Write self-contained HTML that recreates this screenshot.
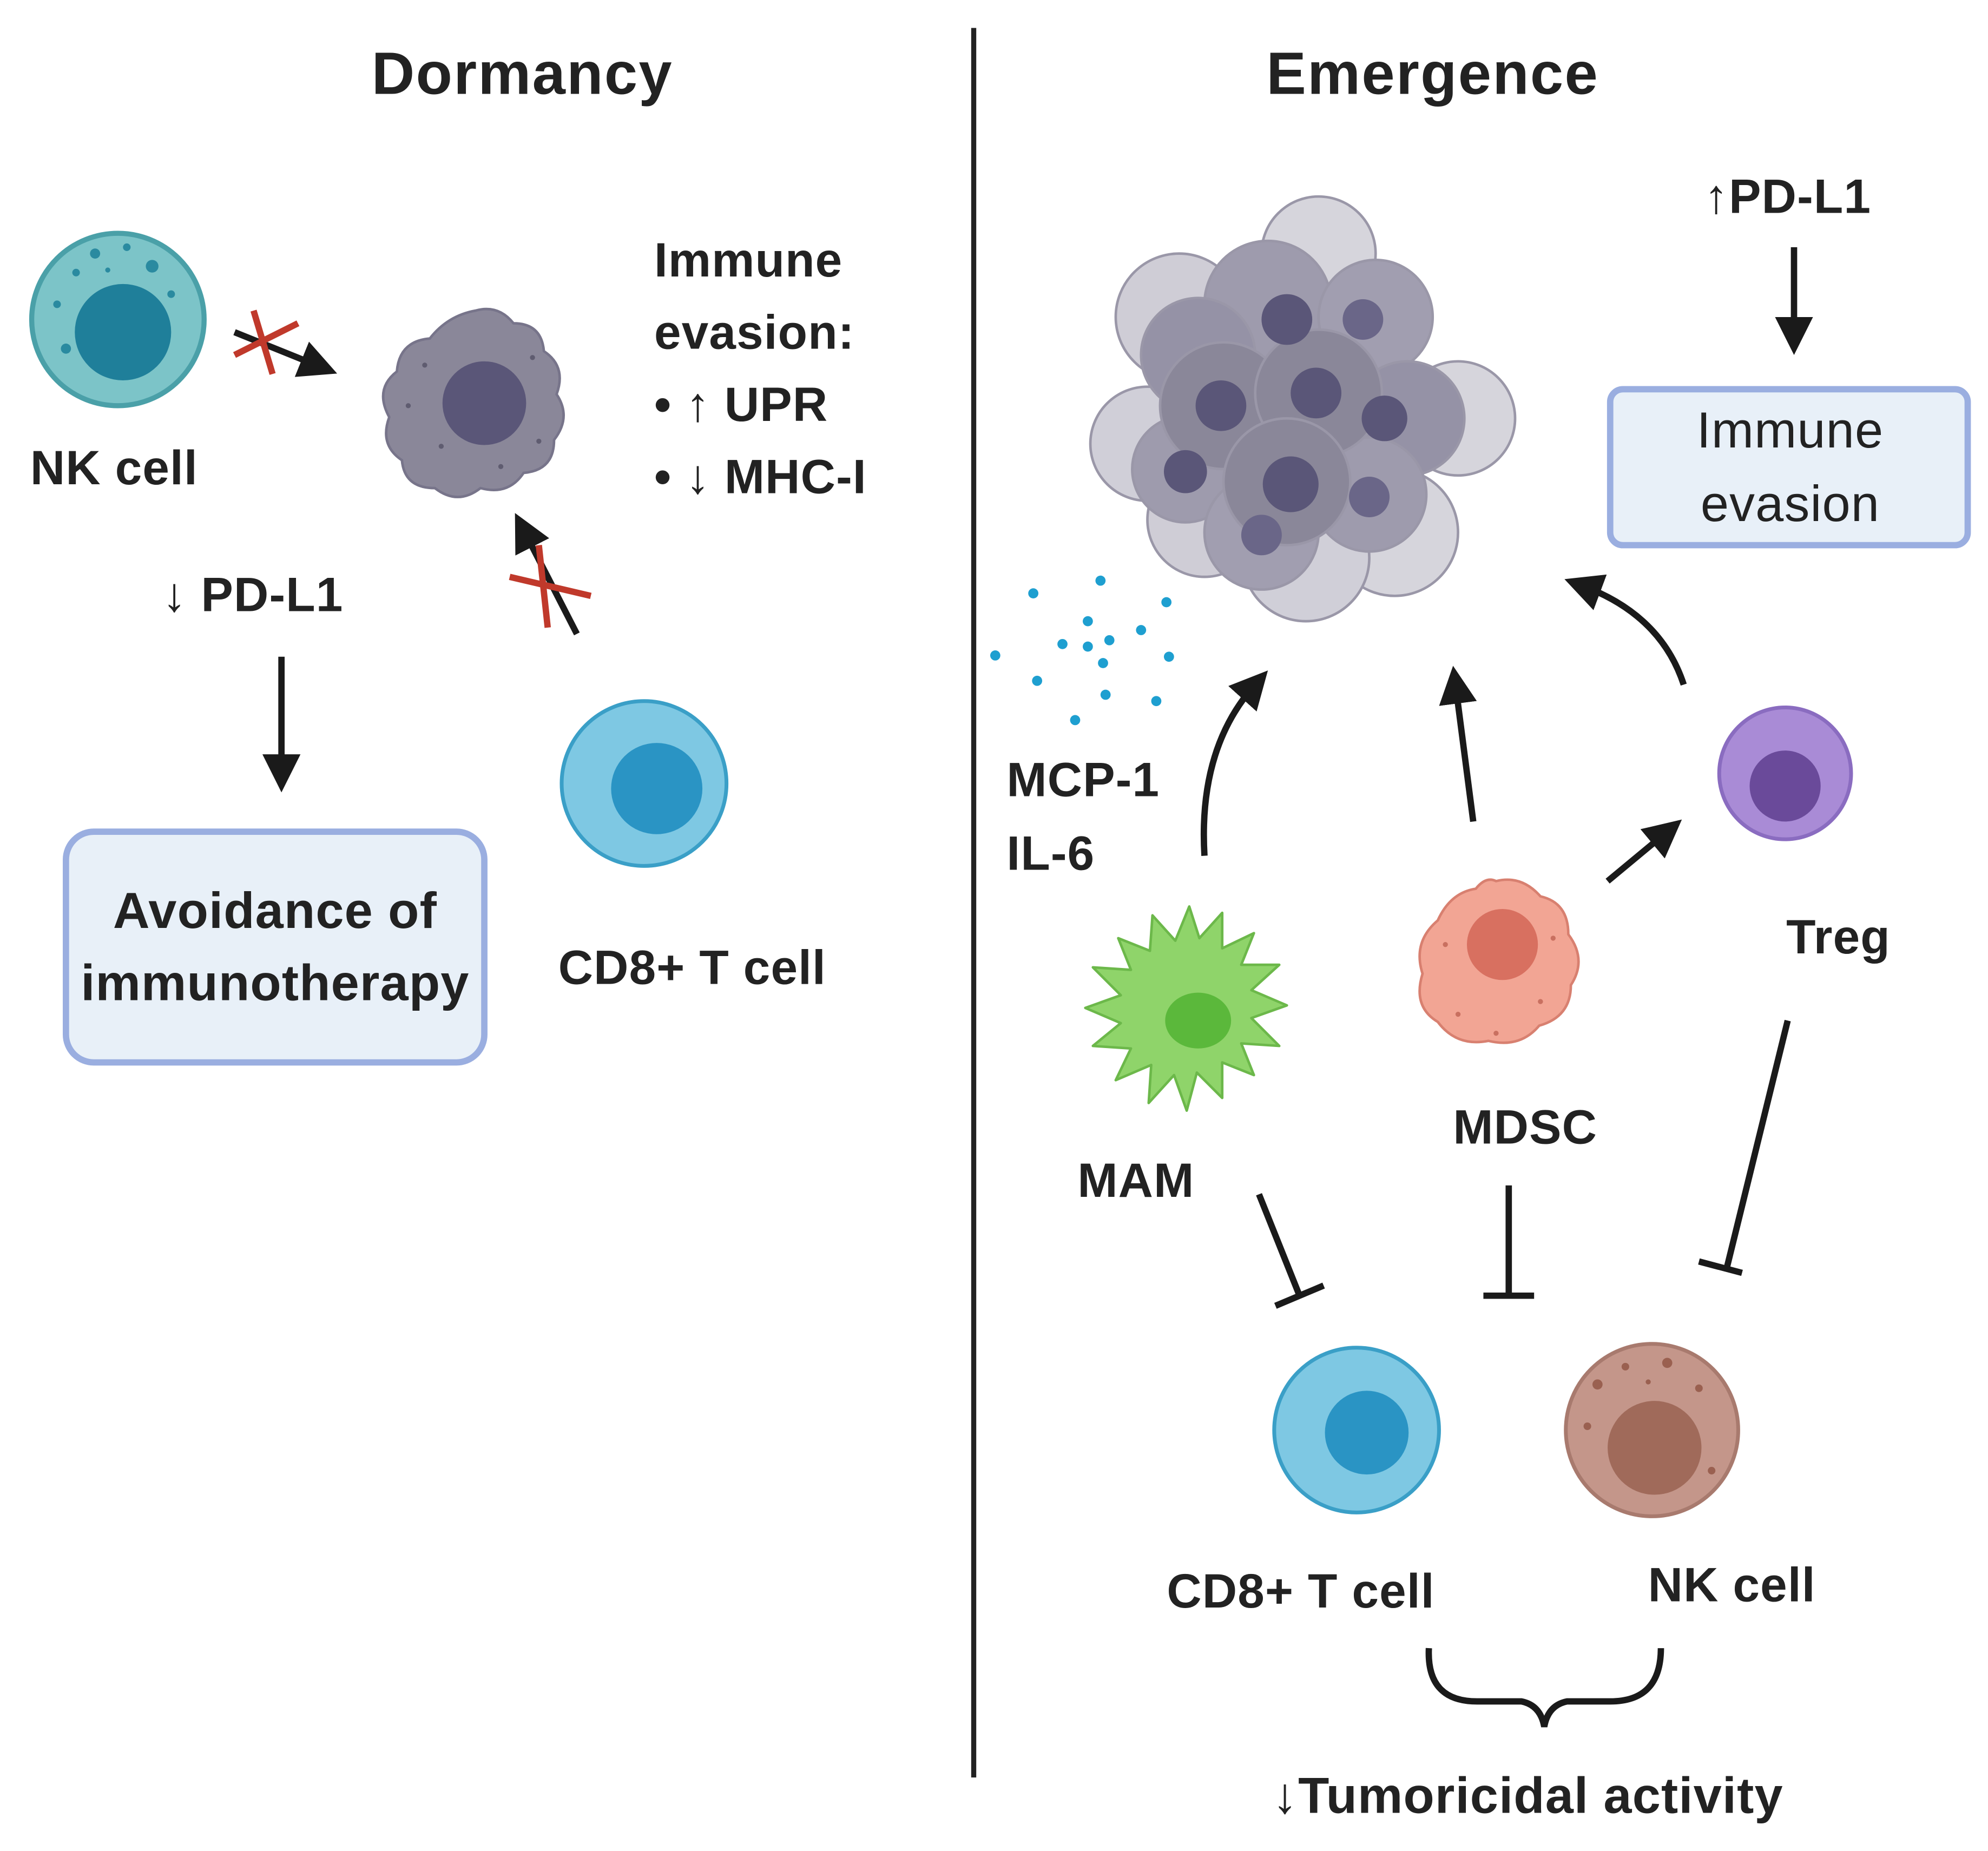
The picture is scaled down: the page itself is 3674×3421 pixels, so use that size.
<!DOCTYPE html>
<html><head><meta charset="utf-8"><style>
html,body{margin:0;padding:0;background:#fff;}
svg{display:block;}
text{font-family:"Liberation Sans",sans-serif;fill:#222;}
.b{font-weight:bold;letter-spacing:0.5px;}
</style></head><body>
<svg width="3674" height="3421" viewBox="0 0 1568 1460" xmlns="http://www.w3.org/2000/svg">
<defs>
<marker id="ah" markerWidth="6" markerHeight="6" refX="3" refY="3" orient="auto" markerUnits="strokeWidth">
<path d="M0,0 L6,3 L0,6 z" fill="#1a1a1a"/></marker>
</defs>
<rect width="1568" height="1460" fill="#fff"/>
<line x1="768" y1="22" x2="768" y2="1402" stroke="#222" stroke-width="4"/>
<text x="412" y="74" font-size="47" class="b" text-anchor="middle" style="letter-spacing:1px">Dormancy</text>
<text x="1130" y="74" font-size="47" class="b" text-anchor="middle" style="letter-spacing:1px">Emergence</text>

<!-- NK cell left -->
<circle cx="93" cy="252" r="68" fill="#7cc4c8" stroke="#4aa0a8" stroke-width="4"/>
<circle cx="97" cy="262" r="38" fill="#1f7f9a"/>
<g fill="#2a8aa0"><circle cx="60" cy="215" r="3"/><circle cx="75" cy="200" r="4"/><circle cx="100" cy="195" r="3"/><circle cx="120" cy="210" r="5"/><circle cx="45" cy="240" r="3"/><circle cx="135" cy="232" r="3"/><circle cx="52" cy="275" r="4"/><circle cx="85" cy="213" r="2"/></g>
<text x="90" y="382" font-size="38" class="b" text-anchor="middle">NK cell</text>
<line x1="185" y1="262" x2="252" y2="289" stroke="#1a1a1a" stroke-width="5" marker-end="url(#ah)"/>
<g stroke="#c0392b" stroke-width="5"><line x1="185" y1="280" x2="235" y2="255"/><line x1="200" y1="245" x2="215" y2="295"/></g>

<!-- tumor small -->
<path d="M375,245 q18,-5 30,10 q22,0 24,22 q18,12 10,34 q12,18 -2,36 q0,24 -24,26 q-12,18 -34,12 q-18,14 -36,0 q-24,0 -26,-22 q-18,-12 -10,-34 q-12,-22 6,-36 q2,-24 26,-26 q14,-18 36,-22z" fill="#8a8799" stroke="#77748a" stroke-width="2"/>
<circle cx="382" cy="318" r="33" fill="#5a5678"/>
<g fill="#5f5c70"><circle cx="335" cy="288" r="2"/><circle cx="425" cy="348" r="2"/><circle cx="348" cy="352" r="2"/><circle cx="420" cy="282" r="2"/><circle cx="322" cy="320" r="2"/><circle cx="395" cy="368" r="2"/></g>

<text font-size="38" class="b"><tspan x="516" y="218">Immune</tspan><tspan x="516" y="275">evasion:</tspan><tspan x="516" y="332">• ↑ UPR</tspan><tspan x="516" y="389">• ↓ MHC-I</tspan></text>

<line x1="455" y1="500" x2="413" y2="418" stroke="#1a1a1a" stroke-width="5" marker-end="url(#ah)"/>
<g stroke="#c0392b" stroke-width="5"><line x1="402" y1="455" x2="466" y2="470"/><line x1="425" y1="430" x2="432" y2="495"/></g>

<text x="128" y="482" font-size="38" class="b">↓ PD-L1</text>
<line x1="222" y1="518" x2="222" y2="610" stroke="#1a1a1a" stroke-width="5" marker-end="url(#ah)"/>
<rect x="52" y="656" width="330" height="182" rx="22" fill="#e8f0f8" stroke="#9aaee0" stroke-width="5"/>
<text font-size="40" class="b" text-anchor="middle"><tspan x="217" y="732">Avoidance of</tspan><tspan x="217" y="789">immunotherapy</tspan></text>

<circle cx="508" cy="618" r="65" fill="#7ec8e3" stroke="#3a9fc7" stroke-width="3"/>
<circle cx="518" cy="622" r="36" fill="#2a94c4"/>
<text x="546" y="776" font-size="38" class="b" text-anchor="middle">CD8+ T cell</text>

<!-- tumor cluster -->
<g stroke="#9a97a8" stroke-width="2">
<circle cx="1040" cy="200" r="45" fill="#d6d5dc"/>
<circle cx="930" cy="250" r="50" fill="#cfcdd6"/>
<circle cx="1150" cy="330" r="45" fill="#d6d5dc"/>
<circle cx="905" cy="350" r="45" fill="#d0cfd8"/>
<circle cx="1100" cy="420" r="50" fill="#d6d5dc"/>
<circle cx="1030" cy="440" r="50" fill="#d0cfd8"/>
<circle cx="950" cy="410" r="45" fill="#cfcdd6"/>
<circle cx="1000" cy="240" r="50" fill="#9e9bad"/>
<circle cx="1085" cy="250" r="45" fill="#a19eb0"/>
<circle cx="945" cy="280" r="45" fill="#9592a6"/>
<circle cx="1110" cy="330" r="45" fill="#9592a6"/>
<circle cx="935" cy="370" r="42" fill="#9e9bad"/>
<circle cx="1080" cy="390" r="45" fill="#9e9bad"/>
<circle cx="995" cy="420" r="45" fill="#a19eb0"/>
<circle cx="965" cy="320" r="50" fill="#8a8799"/>
<circle cx="1040" cy="310" r="50" fill="#8a8799"/>
<circle cx="1015" cy="380" r="50" fill="#8a8799"/>
</g>
<g fill="#5a5678">
<circle cx="1015" cy="252" r="20"/><circle cx="963" cy="320" r="20"/><circle cx="1038" cy="310" r="20"/><circle cx="1018" cy="382" r="22"/><circle cx="1092" cy="330" r="18"/><circle cx="935" cy="372" r="17"/><circle cx="1080" cy="392" r="16" fill="#6a6688"/><circle cx="995" cy="422" r="16" fill="#6a6688"/><circle cx="1075" cy="252" r="16" fill="#6a6688"/>
</g>

<text x="1410" y="168" font-size="38" class="b" text-anchor="middle">↑PD-L1</text>
<line x1="1415" y1="195" x2="1415" y2="265" stroke="#1a1a1a" stroke-width="5" marker-end="url(#ah)"/>
<rect x="1270" y="307" width="282" height="123" rx="10" fill="#e8f0f8" stroke="#9aaee0" stroke-width="5"/>
<text font-size="40" text-anchor="middle" style="letter-spacing:0.5px"><tspan x="1412" y="353">Immune</tspan><tspan x="1412" y="411">evasion</tspan></text>

<g fill="#1e9fd0">
<circle cx="815" cy="468" r="4"/><circle cx="868" cy="458" r="4"/><circle cx="920" cy="475" r="4"/><circle cx="858" cy="490" r="4"/><circle cx="900" cy="497" r="4"/><circle cx="838" cy="508" r="4"/><circle cx="875" cy="505" r="4"/><circle cx="785" cy="517" r="4"/><circle cx="922" cy="518" r="4"/><circle cx="870" cy="523" r="4"/><circle cx="818" cy="537" r="4"/><circle cx="872" cy="548" r="4"/><circle cx="912" cy="553" r="4"/><circle cx="848" cy="568" r="4"/><circle cx="858" cy="510" r="4"/>
</g>
<text font-size="38" class="b"><tspan x="794" y="628">MCP-1</tspan><tspan x="794" y="686">IL-6</tspan></text>

<path d="M950,675 Q945,590 990,540" fill="none" stroke="#1a1a1a" stroke-width="5" marker-end="url(#ah)"/>
<line x1="1162" y1="648" x2="1148" y2="540" stroke="#1a1a1a" stroke-width="5" marker-end="url(#ah)"/>
<path d="M1328,540 Q1310,485 1248,462" fill="none" stroke="#1a1a1a" stroke-width="5" marker-end="url(#ah)"/>
<line x1="1268" y1="695" x2="1315" y2="656" stroke="#1a1a1a" stroke-width="5" marker-end="url(#ah)"/>

<!-- MAM -->
<path d="M938,715 l8,25 l18,-20 l0,28 l25,-12 l-10,25 l30,0 l-22,20 l28,12 l-28,10 l22,22 l-30,-2 l10,25 l-25,-10 l0,28 l-20,-20 l-8,30 l-10,-28 l-20,22 l2,-30 l-28,12 l12,-25 l-30,-2 l22,-18 l-28,-12 l28,-10 l-22,-22 l30,2 l-10,-25 l25,10 l2,-28 l18,20z" fill="#8fd46a" stroke="#6cb84a" stroke-width="2" stroke-linejoin="round"/>
<ellipse cx="945" cy="805" rx="26" ry="22" fill="#5bb83b"/>
<text x="896" y="944" font-size="38" class="b" text-anchor="middle">MAM</text>

<!-- MDSC -->
<path d="M1180,695 q20,-5 35,12 q22,5 22,30 q15,20 2,40 q0,25 -25,32 q-15,18 -40,12 q-25,5 -40,-15 q-20,-12 -12,-38 q-8,-25 12,-42 q10,-22 30,-25 q8,-10 16,-6z" fill="#f2a594" stroke="#d88070" stroke-width="2"/>
<circle cx="1185" cy="745" r="28" fill="#d87060"/>
<g fill="#c97060"><circle cx="1140" cy="745" r="2"/><circle cx="1215" cy="790" r="2"/><circle cx="1150" cy="800" r="2"/><circle cx="1225" cy="740" r="2"/><circle cx="1180" cy="815" r="2"/></g>
<text x="1203" y="902" font-size="38" class="b" text-anchor="middle">MDSC</text>

<!-- Treg -->
<circle cx="1408" cy="610" r="52" fill="#a98bd6" stroke="#8a6cc0" stroke-width="3"/>
<circle cx="1408" cy="620" r="28" fill="#6a4a9a"/>
<text x="1450" y="752" font-size="38" class="b" text-anchor="middle">Treg</text>

<!-- inhibitions -->
<g stroke="#1a1a1a" stroke-width="5" fill="none">
<line x1="993" y1="942" x2="1025" y2="1022"/><line x1="1006" y1="1030" x2="1044" y2="1014"/>
<line x1="1190" y1="935" x2="1190" y2="1022"/><line x1="1170" y1="1022" x2="1210" y2="1022"/>
<line x1="1410" y1="805" x2="1362" y2="1000"/><line x1="1340" y1="995" x2="1374" y2="1004"/>
</g>

<circle cx="1070" cy="1128" r="65" fill="#7ec8e3" stroke="#3a9fc7" stroke-width="3"/>
<circle cx="1078" cy="1130" r="33" fill="#2a94c4"/>
<circle cx="1303" cy="1128" r="68" fill="#c4968a" stroke="#a87a6e" stroke-width="3"/>
<circle cx="1305" cy="1142" r="37" fill="#a06a5a"/>
<g fill="#9a6050"><circle cx="1260" cy="1092" r="4"/><circle cx="1282" cy="1078" r="3"/><circle cx="1315" cy="1075" r="4"/><circle cx="1340" cy="1095" r="3"/><circle cx="1252" cy="1125" r="3"/><circle cx="1350" cy="1160" r="3"/><circle cx="1300" cy="1090" r="2"/></g>
<text x="1026" y="1268" font-size="38" class="b" text-anchor="middle">CD8+ T cell</text>
<text x="1366" y="1263" font-size="38" class="b" text-anchor="middle">NK cell</text>

<path d="M1127,1300 Q1125,1342 1165,1342 L1200,1342 Q1215,1345 1218,1362 Q1221,1345 1236,1342 L1270,1342 Q1310,1342 1310,1300" fill="none" stroke="#1a1a1a" stroke-width="5"/>
<text x="1205" y="1430" font-size="40" class="b" text-anchor="middle">↓Tumoricidal activity</text>
</svg>
</body></html>
